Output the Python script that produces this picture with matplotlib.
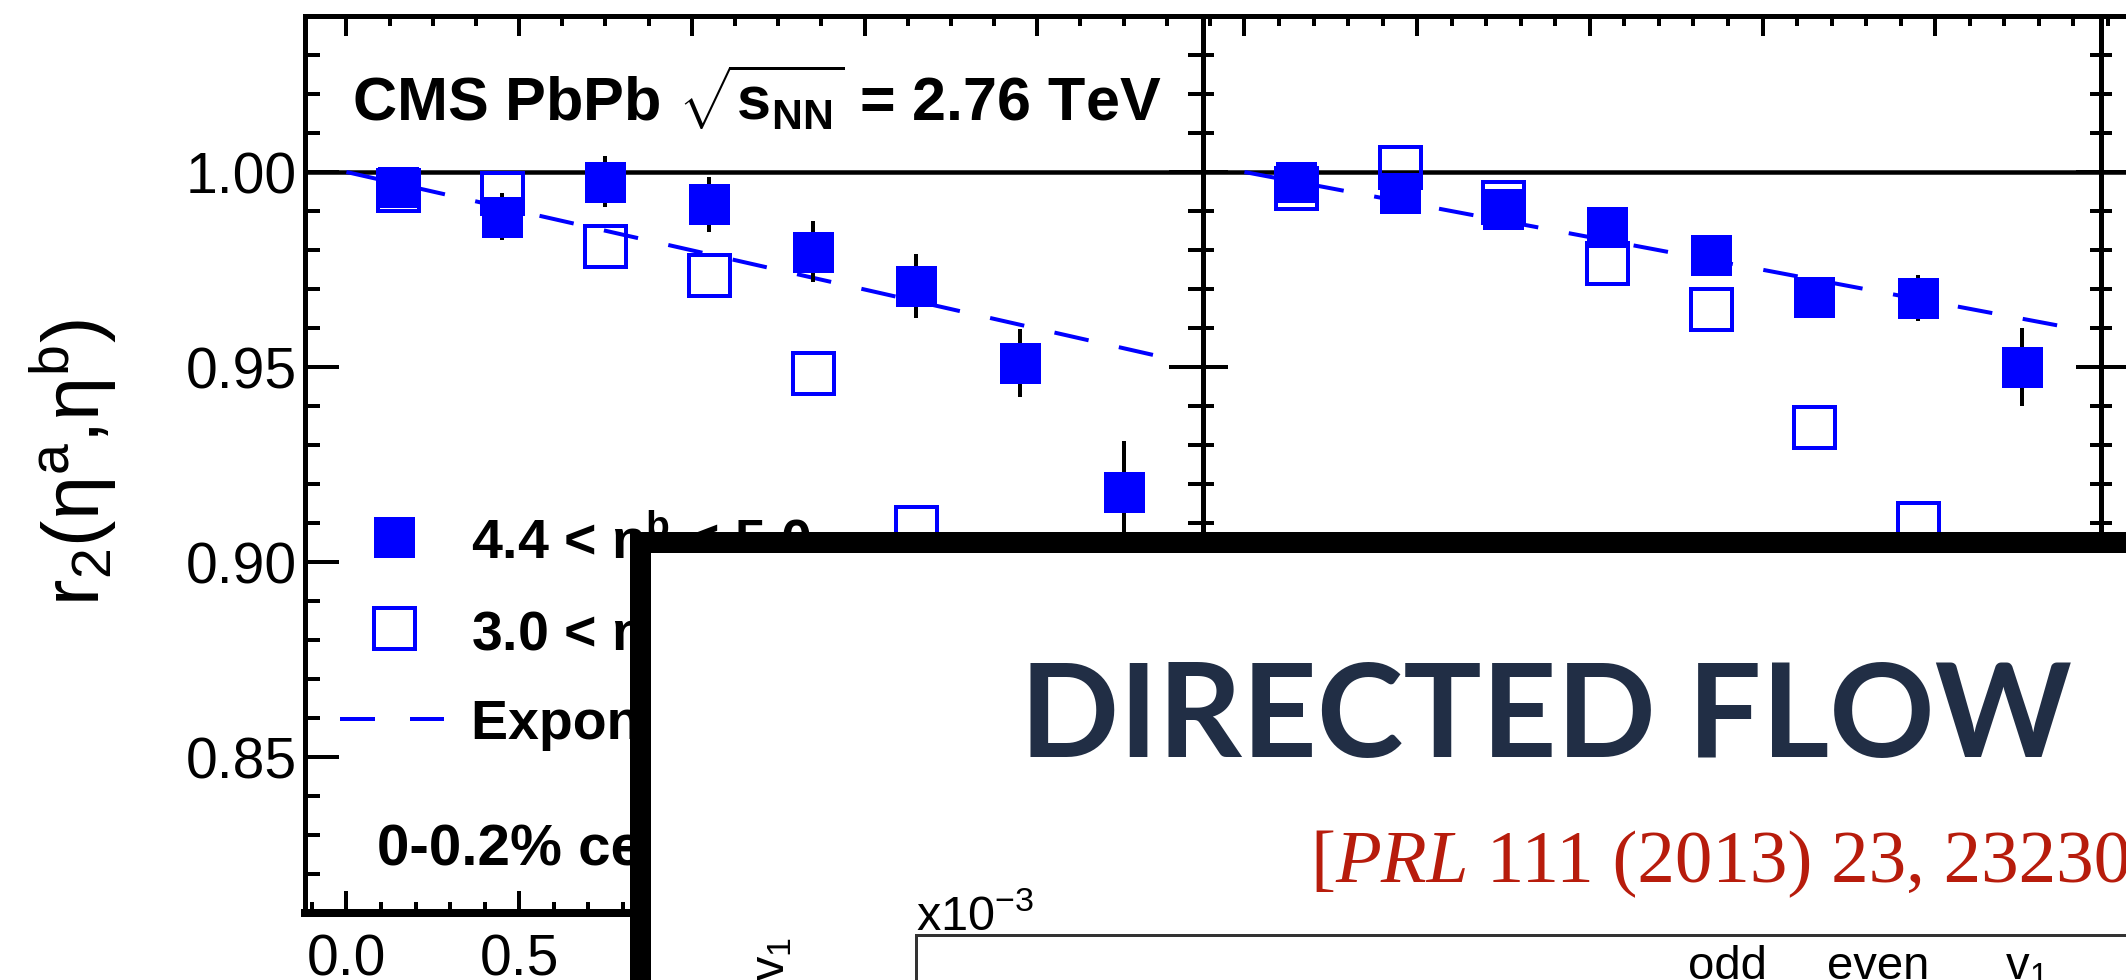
import matplotlib
matplotlib.use("Agg")
import matplotlib.pyplot as plt
from matplotlib.patches import Rectangle
from matplotlib.ticker import MultipleLocator, FormatStrFormatter

plt.rcParams['font.family'] = ['Liberation Sans', 'DejaVu Sans']
plt.rcParams['mathtext.fontset'] = 'custom'
plt.rcParams['mathtext.rm'] = 'Liberation Sans'
plt.rcParams['mathtext.it'] = 'Liberation Sans:italic'
plt.rcParams['mathtext.bf'] = 'Liberation Sans:bold'
plt.rcParams['lines.scale_dashes'] = False

# r2(eta^a, eta^b) in PbPb 0-0.2% centrality, two eta^b reference ranges
eta_a = [0.15, 0.45, 0.75, 1.05, 1.35, 1.65, 1.95, 2.25]

# left panel
far_left = [0.9962, 0.9885, 0.9975, 0.9917, 0.9796, 0.9707, 0.9510, 0.9180]
far_left_err = [0.003, 0.006, 0.0065, 0.007, 0.0078, 0.0082, 0.0088, 0.013]
near_left = [0.9955, 0.9947, 0.9810, 0.9736, 0.9485, 0.9090, 0.8700, 0.8300]

# middle panel
far_mid = [0.9975, 0.9947, 0.9906, 0.9858, 0.9787, 0.9680, 0.9677, 0.9500]
far_mid_err = [0.002, 0.003, 0.003, 0.003, 0.003, 0.003, 0.006, 0.010]
near_mid = [0.9960, 1.0013, 0.9922, 0.9766, 0.9649, 0.9346, 0.9100, 0.8800]

# exponential fit curves (end values over the fitted eta^a range)
fit_eta = [0.0, 2.4]
fit_left = [1.0, 0.9518]
fit_mid = [1.0, 0.9599]

legend_labels = [r"4.4 < η$^{\mathbf{b}}$ < 5.0", r"3.0 < η$^{\mathbf{b}}$ < 4.0", "Exponential fit"]

W, H = 2126, 980
PT = 0.72  # points per pixel at dpi 100
BLUE = '#0000ff'


def box(x0, y0, x1, y1):
    return [x0 / W, 1 - y1 / H, (x1 - x0) / W, (y1 - y0) / H]


def setup_panel(ax, first):
    ax.set_xlim(-0.12, 2.48)
    ax.set_ylim(0.81, 1.04)
    for side in ['left', 'right', 'top']:
        ax.spines[side].set_linewidth(5 * PT)
    ax.spines['bottom'].set_linewidth(8 * PT)
    ax.yaxis.set_major_locator(MultipleLocator(0.05))
    ax.yaxis.set_minor_locator(MultipleLocator(0.01))
    ax.xaxis.set_major_locator(MultipleLocator(0.5))
    ax.xaxis.set_minor_locator(MultipleLocator(0.1))
    ymaj, ymin = (34, 15) if first else (25, 11)
    ax.tick_params(axis='y', which='major', direction='in', left=True, right=True,
                   length=ymaj * PT, width=4 * PT, pad=8 * PT)
    ax.tick_params(axis='y', which='minor', direction='in', left=True, right=True,
                   length=ymin * PT, width=4 * PT)
    ax.tick_params(axis='x', which='major', direction='in', top=False,
                   length=22 * PT, width=4 * PT, pad=20 * PT)
    ax.tick_params(axis='x', which='minor', direction='in', top=False,
                   length=11 * PT, width=4 * PT)
    ax.tick_params(labelsize=41, labelleft=first, labelbottom=first)
    ax.yaxis.set_major_formatter(FormatStrFormatter('%.2f'))
    ax.xaxis.set_major_formatter(FormatStrFormatter('%.1f'))
    top = ax.secondary_xaxis('top')
    top.xaxis.set_major_locator(MultipleLocator(0.5))
    top.xaxis.set_minor_locator(MultipleLocator(0.125 if first else 0.1))
    top.tick_params(which='major', direction='in', length=20 * PT, width=4 * PT, labeltop=False)
    top.tick_params(which='minor', direction='in', length=10 * PT, width=4 * PT)
    top.spines['top'].set_linewidth(5 * PT)
    ax.axhline(1.0, color='black', lw=4.5 * PT, zorder=1)


def draw_points(ax, far, far_err, near, fit):
    ax.plot(fit_eta, fit, color=BLUE, lw=4 * PT, dashes=(35 * PT, 31 * PT), zorder=2)
    ax.errorbar(eta_a, far, yerr=far_err, fmt='none', ecolor='black',
                elinewidth=4 * PT, capsize=0, zorder=3)
    ax.plot(eta_a, far, ls='none', marker='s', ms=41 * PT, mfc=BLUE, mec=BLUE, mew=0, zorder=4)
    ax.plot(eta_a, near, ls='none', marker='s', ms=41 * PT, mfc='none', mec=BLUE,
            mew=4 * PT, zorder=5)


fig = plt.figure(figsize=(W / 100, H / 100), dpi=100)
fig.patch.set_facecolor('white')

ax_l = fig.add_axes(box(305, 16, 1203, 913))
ax_m = fig.add_axes(box(1203, 16, 2101, 913))
ax_r = fig.add_axes(box(2101, 16, 2999, 913))
for a, first in [(ax_l, True), (ax_m, False), (ax_r, False)]:
    setup_panel(a, first)

draw_points(ax_l, far_left, far_left_err, near_left, fit_left)
draw_points(ax_m, far_mid, far_mid_err, near_mid, fit_mid)

# header and legend in the left panel
ax_l.text(0.052, 0.884, r"CMS PbPb $\sqrt{\mathbf{s}_{\mathbf{NN}}}$ = 2.76 TeV",
          transform=ax_l.transAxes, fontsize=44, fontweight='bold', va='baseline')
ax_l.plot([0.099], [0.4187], transform=ax_l.transAxes, ls='none', marker='s',
          ms=41 * PT, mfc=BLUE, mew=0, clip_on=False)
ax_l.plot([0.099], [0.3174], transform=ax_l.transAxes, ls='none', marker='s',
          ms=41 * PT, mfc='none', mec=BLUE, mew=4 * PT, clip_on=False)
ax_l.plot([0.039, 0.155], [0.216, 0.216], transform=ax_l.transAxes, color=BLUE,
          lw=4 * PT, dashes=(35 * PT, 35 * PT), clip_on=False)
for yb, lab in zip([0.3942, 0.2918, 0.1938], legend_labels):
    ax_l.text(0.1847, yb, lab, transform=ax_l.transAxes, fontsize=40,
              fontweight='bold', va='baseline')
ax_l.text(0.080, 0.0535, "0-0.2% centrality", transform=ax_l.transAxes,
          fontsize=42, fontweight='bold', va='baseline')

fig.text(72 / W, 1 - 462 / H, r"r$_{2}$(η$^{\mathrm{a}}$,η$^{\mathrm{b}}$)",
         rotation=90, ha='center', va='center', fontsize=57)

# slide panel laid over the lower right
fig.add_artist(Rectangle((639.5 / W, -0.5), 2.0, 1 - 542.5 / H + 0.5,
                         transform=fig.transFigure, fc='white', ec='black',
                         lw=21 * PT, zorder=10))
fig.text(1546 / W, 1 - 757 / H, "DIRECTED FLOW", ha='center', va='baseline',
         fontsize=94, family='Lato', fontweight='bold', color='#212e45', zorder=11)

red = '#b71c0c'
renderer = fig.canvas.get_renderer()
x_pix = 1310
for piece, style in [("[", 'normal'), ("PRL", 'italic'), (" 111 (2013) 23, 232302]", 'normal')]:
    t = fig.text(x_pix / W, 1 - 882 / H, piece, fontsize=54, family='Liberation Serif',
                 style=style, color=red, va='baseline', zorder=11)
    x_pix = t.get_window_extent(renderer).x1

# inner v1 plot frame peeking out at the bottom
inner = fig.add_axes(box(916, 935, 2700, 1600))
inner.set_zorder(12)
inner.patch.set_alpha(0)
inner.set_xticks([])
inner.set_yticks([])
for side in ['right', 'bottom']:
    inner.spines[side].set_visible(False)
for side in ['top', 'left']:
    inner.spines[side].set_linewidth(3 * PT)
    inner.spines[side].set_color('#333333')

fig.text(916 / W, 1 - 930 / H, r"x10$^{-3}$", fontsize=35, va='baseline', zorder=13)
fig.text(772 / W, 1 - 937 / H, r"v$_{1}$", rotation=90, ha='center', va='top',
         fontsize=35, zorder=13)
for xp, lab in [(1688, "odd"), (1827, "even"), (2005, r"v$_{1}$")]:
    fig.text(xp / W, 1 - 979 / H, lab, fontsize=34, va='baseline', zorder=13)

fig.savefig('out.png', dpi=100)
